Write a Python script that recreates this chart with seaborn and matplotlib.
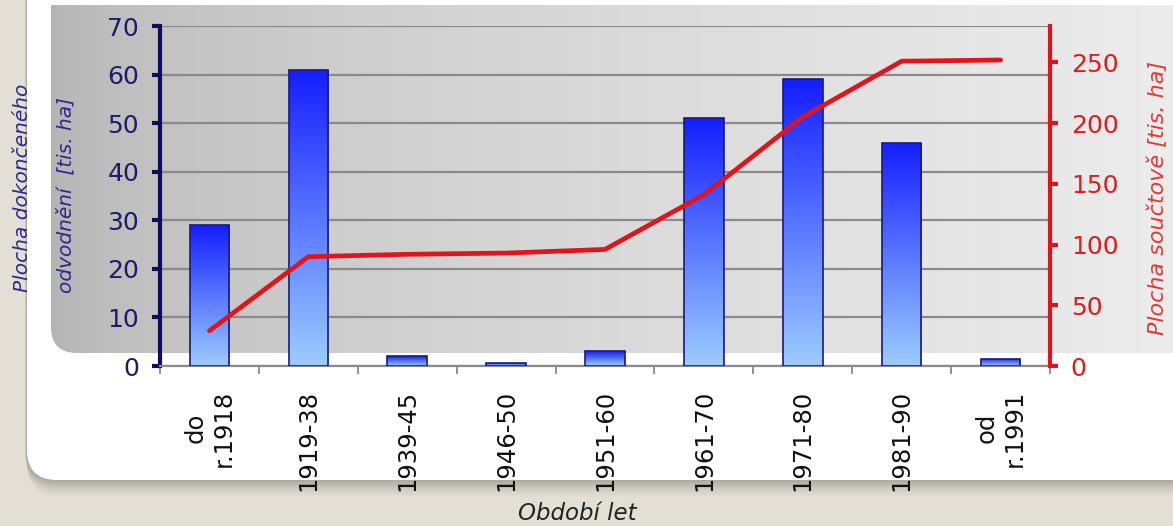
import numpy as np
import matplotlib
matplotlib.use("Agg")
import matplotlib.pyplot as plt
from matplotlib.patches import FancyBboxPatch
import seaborn as sns

# Data
periods = ["do\nr.1918", "1919-38", "1939-45", "1946-50", "1951-60",
           "1961-70", "1971-80", "1981-90", "od\nr.1991"]
area_done = [29, 61, 2, 0.7, 3, 51, 59, 46, 1.5]          # tis. ha per period
area_total = [29, 90, 92, 93, 96, 141, 205, 251, 252]      # cumulative tis. ha
left_ticks = [0, 10, 20, 30, 40, 50, 60, 70]
right_ticks = [0, 50, 100, 150, 200, 250]

sns.set_theme(style="white")
plt.rcParams["font.family"] = ["DejaVu Sans"]

W, H = 1173, 526
fig = plt.figure(figsize=(W / 100, H / 100), dpi=100, facecolor="#e4dfd5")

# ---- decorative background (pixel coordinates, y downwards) ----
bg = fig.add_axes([0, 0, 1, 1], zorder=-1)
bg.set_xlim(0, W)
bg.set_ylim(H, 0)
bg.axis("off")

# soft drop shadow under the white card
for i, a in enumerate(np.linspace(0.10, 0.02, 8)):
    sh = FancyBboxPatch((27 - 2 + i * 0.3, -60), W + 100, 480 + 60 + 2 + i * 2.2,
                        boxstyle="round,pad=0,rounding_size=32",
                        fc="#6a6258", ec="none", alpha=a)
    bg.add_patch(sh)

card = FancyBboxPatch((27, -60), W + 100, 480 + 60,
                      boxstyle="round,pad=0,rounding_size=30",
                      fc="white", ec="none")
bg.add_patch(card)

# grey gradient panel behind the plot
panel = FancyBboxPatch((51, -60), W + 100, 353 + 60,
                       boxstyle="round,pad=0,rounding_size=26",
                       fc="none", ec="none")
bg.add_patch(panel)
t = np.linspace(0, 1, 400)
v = 0.70 + (0.925 - 0.70) * t ** 0.55
grad = np.dstack([v, v, v])
im = bg.imshow(grad, extent=[51, W, 353, 5], aspect="auto", zorder=1)
im.set_clip_path(panel)
bg.set_xlim(0, W)
bg.set_ylim(H, 0)

# ---- main chart ----
navy = "#0e0e5e"
red = "#e0141c"
ax = fig.add_axes([160 / W, 1 - 366 / H, (1050 - 160) / W, (366 - 26) / H])
ax.set_facecolor("none")

sns.barplot(x=periods, y=area_done, ax=ax, width=0.4, color="#3a6cff",
            edgecolor="#1a1a78", linewidth=1.2, zorder=3)

ax.set_xlim(-0.5, len(periods) - 0.5)
ax.set_ylim(0, 70)

# vertical blue gradient inside each bar
n = 256
s = np.linspace(0, 1, n)[:, None]
top_c = np.array([0x14, 0x1e, 0xff]) / 255
bot_c = np.array([0x9c, 0xcc, 0xff]) / 255
col = bot_c + (top_c - bot_c) * s
bar_grad = np.repeat(col[:, None, :], 2, axis=1)[:, :, :]
for p in ax.patches:
    x0, y0 = p.get_x(), p.get_y()
    w, h = p.get_width(), p.get_height()
    img = ax.imshow(bar_grad, extent=[x0, x0 + w, y0, y0 + h], origin="lower",
                    aspect="auto", zorder=3.1)
    img.set_clip_path(p)
    p.set_facecolor("none")
    p.set_zorder(3.2)
ax.set_xlim(-0.5, len(periods) - 0.5)
ax.set_ylim(0, 70)
ax.set_aspect("auto")

ax.set_yticks(left_ticks)
ax.yaxis.grid(True, color="#8a8a8a", linewidth=1.6)
ax.set_axisbelow(True)
for sp in ["top", "right"]:
    ax.spines[sp].set_visible(False)
ax.spines["left"].set_color(navy)
ax.spines["left"].set_linewidth(3)
ax.spines["bottom"].set_color("#8a8a8a")
ax.spines["bottom"].set_linewidth(1.6)

ax.tick_params(axis="y", which="major", left=True, length=6, width=3,
               color=navy, labelcolor="#1c1c6a", labelsize=18, pad=9)
ax.set_xticks(range(len(periods)))
ax.set_xticklabels(periods, rotation=90, ha="center", va="top",
                   multialignment="center", fontsize=17.5, color="#111111")
ax.tick_params(axis="x", which="major", bottom=True, length=0, pad=17)
ax.set_xticks(np.arange(-0.5, len(periods), 1), minor=True)
ax.tick_params(axis="x", which="minor", bottom=True, length=6, width=1.3,
               color="#8a8a8a", direction="out")
ax.set_xlabel("")
ax.set_ylabel("")

# cumulative area on the secondary axis
ax2 = ax.twinx()
sns.lineplot(x=np.arange(len(periods)), y=area_total, ax=ax2, color=red,
             linewidth=3.4, zorder=5)
ax2.set_ylim(0, 280)
ax2.set_xlim(-0.5, len(periods) - 0.5)
ax2.set_yticks(right_ticks)
ax2.set_ylabel("")
for sp in ["top", "left", "bottom"]:
    ax2.spines[sp].set_visible(False)
ax2.spines["right"].set_color(red)
ax2.spines["right"].set_linewidth(3)
ax2.tick_params(axis="y", right=True, length=6, width=3, color=red,
                labelcolor="#d82020", labelsize=18, pad=9)
ax2.grid(False)

# axis titles
fig.text(23 / W, 1 - 292 / H, "Plocha dokončeného", rotation=90, ha="center",
         va="bottom", fontsize=14.5, style="italic", color="#2a2a8a")
fig.text(66 / W, 1 - 293 / H, "odvodnění  [tis. ha]", rotation=90, ha="center",
         va="bottom", fontsize=14.5, style="italic", color="#2a2a8a")
fig.text(1158 / W, 1 - 198 / H, "Plocha součtově [tis. ha]", rotation=90,
         ha="center", va="center", fontsize=16, style="italic", color="#e03a3a")
fig.text(577 / W, 1 - 514 / H, "Období let", ha="center", va="center",
         fontsize=16.5, style="italic", color="#222222")

fig.savefig("out.png", dpi=100, facecolor=fig.get_facecolor())
